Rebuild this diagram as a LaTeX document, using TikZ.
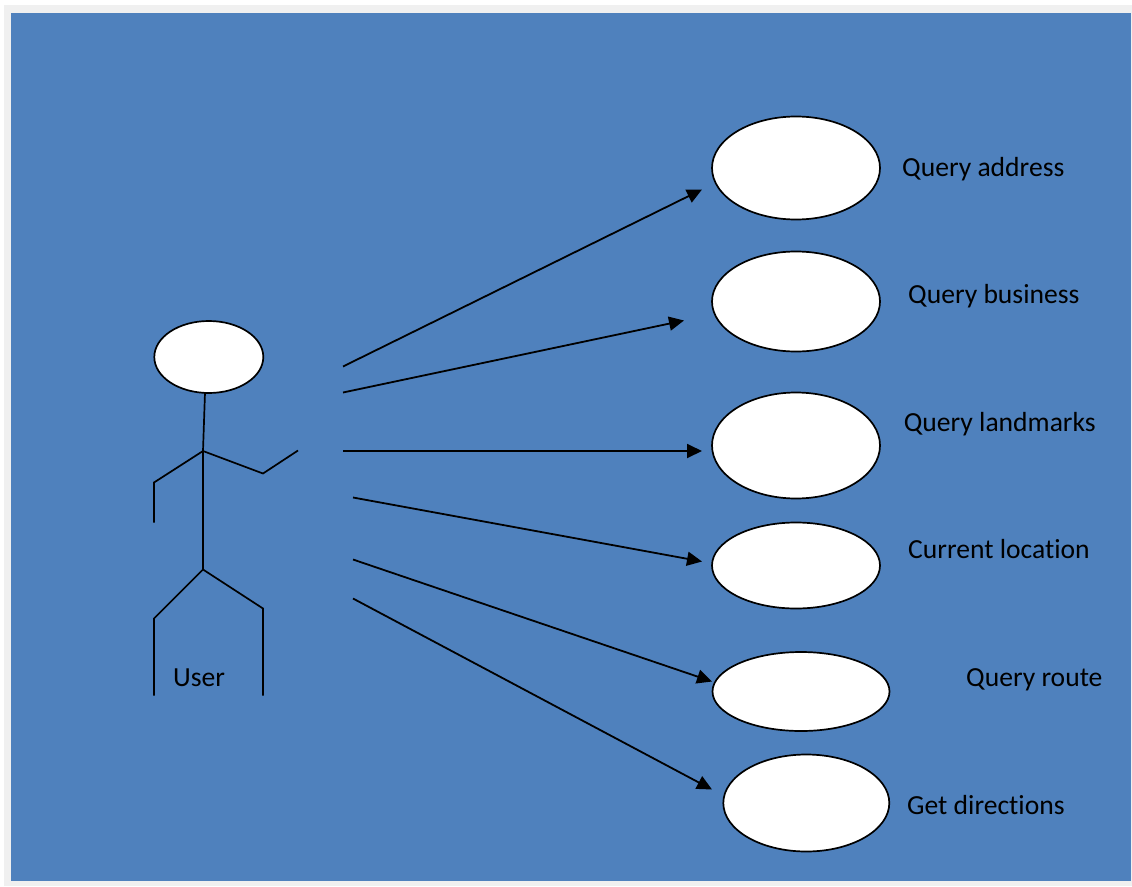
\documentclass[tikz,border=0pt]{standalone}
\usepackage{fontspec}
\setmainfont{Carlito}[Ligatures=NoCommon]
\usetikzlibrary{arrows.meta,shapes.geometric}
\definecolor{bluebg}{HTML}{4F81BD}
\definecolor{edgegray}{HTML}{F0F0F0}
\tikzset{
  x=1pt,y=-1pt,
  usecase/.style={draw=black,fill=white,ellipse,line width=1.7pt,inner sep=0pt,outer sep=0pt},
  lbl/.style={text=black,font=\fontsize{27.6}{32}\selectfont,inner sep=0pt,anchor=west},
  conn/.style={draw=black,line width=1.8pt,-{Triangle[length=15pt,width=14pt]}},
  limb/.style={draw=black,line width=1.7pt}
}
\begin{document}
\begin{tikzpicture}
\useasboundingbox (0,0) rectangle (1132,886);
\fill[white] (0,0) rectangle (1132,886);
\fill[edgegray] (4,5) rectangle (1132,886);
\fill[bluebg] (11,13) rectangle (1131,881);
\node[usecase,minimum width=168pt,minimum height=103pt] (e1) at (796,168) {};
\node[usecase,minimum width=168pt,minimum height=100pt] (e2) at (796,301.5) {};
\node[usecase,minimum width=168pt,minimum height=106pt] (e3) at (796,445.5) {};
\node[usecase,minimum width=168pt,minimum height=86pt] (e4) at (796,565.5) {};
\node[usecase,minimum width=177pt,minimum height=79pt] (e5) at (801,691.5) {};
\node[usecase,minimum width=166pt,minimum height=97pt] (e6) at (806.3,803) {};
\node[usecase,minimum width=109pt,minimum height=72pt] (head) at (208.8,357) {};
\node[lbl] (l1) at (902,169) {Query address};
\node[lbl] (l2) at (908,296.5) {Query business};
\node[lbl] (l3) at (903.7,424) {Query landmarks};
\node[lbl] (l4) at (908,549.5) {Current location};
\node[lbl] (l5) at (966,680) {Query route};
\node[lbl] (l6) at (907,805) {Get directions};
\node[lbl] (user) at (173,678) {User};
\coordinate (chest) at (203,451);
\coordinate (hip) at (203,569.5);
\draw[limb] (205,392.5) -- (chest) -- (hip);
\draw[limb] (154,522.5) -- (154,482.5) -- (chest) -- (263,473.5) -- (298,450.5);
\draw[limb] (154,695.5) -- (154,618.5) -- (hip) -- (263,608.5) -- (263,695.5);
\coordinate (s1) at (343,366.5); \coordinate (t1) at (702,189.5);
\coordinate (s2) at (343,392.5); \coordinate (t2) at (684,320.5);
\coordinate (s3) at (343,451); \coordinate (t3) at (702,451);
\coordinate (s4) at (353,497.5); \coordinate (t4) at (702,561.5);
\coordinate (s5) at (353,559.5); \coordinate (t5) at (712,681.5);
\coordinate (s6) at (353,598.5); \coordinate (t6) at (712,789.5);
\foreach \i in {1,...,6} \draw[conn] (s\i) -- (t\i);
\end{tikzpicture}
\end{document}
